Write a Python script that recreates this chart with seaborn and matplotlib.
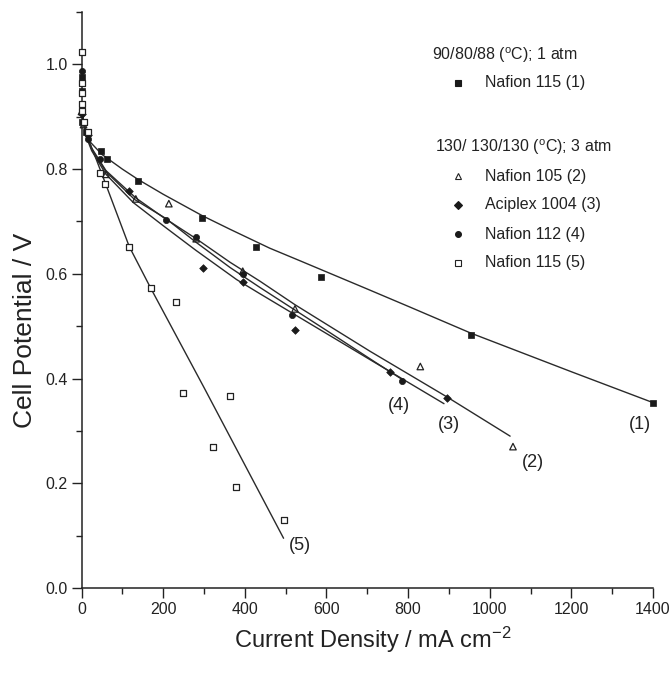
import matplotlib
matplotlib.use("Agg")
import matplotlib.pyplot as plt
from matplotlib.lines import Line2D
from matplotlib.ticker import MultipleLocator, FormatStrFormatter
import seaborn as sns
import pandas as pd

# ---- data ----
s1_x = [0, 0, 2, 10, 48, 62, 139, 296, 427, 587, 954, 1400]
s1_y = [0.975, 0.95, 0.89, 0.87, 0.834, 0.820, 0.777, 0.707, 0.651, 0.593, 0.484, 0.354]

s2_x = [0, 5, 60, 133, 214, 281, 395, 523, 830, 1057]
s2_y = [0.91, 0.885, 0.79, 0.743, 0.734, 0.667, 0.605, 0.533, 0.423, 0.270]

s3_x = [0, 15, 117, 298, 395, 523, 756, 895]
s3_y = [0.905, 0.866, 0.758, 0.612, 0.585, 0.493, 0.412, 0.363]

s4_x = [0, 16, 45, 206, 281, 395, 515, 786]
s4_y = [0.988, 0.857, 0.82, 0.702, 0.671, 0.600, 0.522, 0.396]

s5_x = [0, 0, 0, 0, 0, 5, 17, 45, 58, 117, 170, 232, 248, 323, 364, 378, 496]
s5_y = [1.024, 0.965, 0.945, 0.925, 0.91, 0.89, 0.87, 0.793, 0.771, 0.652, 0.572,
        0.546, 0.372, 0.269, 0.366, 0.192, 0.129]

fit1_x = [0, 10, 21, 50, 100, 139, 200, 296, 364, 461, 535, 700, 803, 953, 1200, 1400]
fit1_y = [0.91, 0.872, 0.852, 0.828, 0.800, 0.780, 0.752, 0.711, 0.685, 0.649, 0.625,
          0.571, 0.537, 0.487, 0.413, 0.354]
fit2_x = [0, 10, 25, 60, 133, 200, 281, 364, 437, 523, 707, 895, 1050]
fit2_y = [0.91, 0.87, 0.84, 0.797, 0.745, 0.708, 0.667, 0.622, 0.586, 0.541, 0.452, 0.365, 0.290]
fit3_x = [0, 10, 25, 60, 127, 200, 280, 380, 437, 600, 707, 888]
fit3_y = [0.91, 0.865, 0.835, 0.79, 0.736, 0.692, 0.645, 0.589, 0.562, 0.486, 0.436, 0.352]
fit4_x = [0, 10, 25, 60, 130, 206, 281, 364, 437, 600, 720, 786]
fit4_y = [0.91, 0.868, 0.838, 0.795, 0.742, 0.706, 0.66, 0.612, 0.574, 0.492, 0.431, 0.398]
fit5_x = [0, 15, 33, 60, 117, 170, 300, 495]
fit5_y = [0.91, 0.86, 0.825, 0.77, 0.652, 0.572, 0.383, 0.095]

line_labels = ["(1)", "(2)", "(3)", "(4)", "(5)"]
label_x = [1369, 1106, 901, 778, 535]
label_y = [0.312, 0.239, 0.312, 0.348, 0.082]

legend_headers = ["90/80/88 ($^{\\rm o}$C); 1 atm", "130/ 130/130 ($^{\\rm o}$C); 3 atm"]
legend_names = ["Nafion 115 (1)", "Nafion 105 (2)", "Aciplex 1004 (3)", "Nafion 112 (4)", "Nafion 115 (5)"]

# ---- style ----
sns.set_theme(style="ticks")
plt.rcParams['font.family'] = ['Liberation Sans', 'DejaVu Sans']
plt.rcParams['mathtext.fontset'] = 'custom'
plt.rcParams['mathtext.rm'] = 'Liberation Sans'
plt.rcParams['mathtext.default'] = 'regular'

INK = "#222222"
W, H = 671, 678
fig = plt.figure(figsize=(W / 100, H / 100), dpi=100)
fig.patch.set_facecolor("white")
left, right, bottom, top = 81.5 / W, 653 / W, 1 - 588 / H, 1 - 12 / H
ax = fig.add_axes([left, bottom, right - left, top - bottom])
ax.set_facecolor("white")

pts = pd.concat([
    pd.DataFrame({"x": s1_x, "y": s1_y, "s": "1"}),
    pd.DataFrame({"x": s2_x, "y": s2_y, "s": "2"}),
    pd.DataFrame({"x": s3_x, "y": s3_y, "s": "3"}),
    pd.DataFrame({"x": s4_x, "y": s4_y, "s": "4"}),
    pd.DataFrame({"x": s5_x, "y": s5_y, "s": "5"}),
])
fits = pd.concat([
    pd.DataFrame({"x": fit1_x, "y": fit1_y, "s": "1"}),
    pd.DataFrame({"x": fit2_x, "y": fit2_y, "s": "2"}),
    pd.DataFrame({"x": fit3_x, "y": fit3_y, "s": "3"}),
    pd.DataFrame({"x": fit4_x, "y": fit4_y, "s": "4"}),
    pd.DataFrame({"x": fit5_x, "y": fit5_y, "s": "5"}),
])

for key, g in fits.groupby("s"):
    sns.lineplot(data=g, x="x", y="y", sort=False, estimator=None, color="#2a2a2a",
                 linewidth=1.0, ax=ax, legend=False)

marker_style = {
    "1": dict(marker="s", s=22, color="#1a1a1a", edgecolor="#1a1a1a", linewidth=0.5),
    "2": dict(marker="^", s=22, color="none", edgecolor=INK, linewidth=0.9),
    "3": dict(marker="D", s=15, color="#1a1a1a", edgecolor="#1a1a1a", linewidth=0.5),
    "4": dict(marker="o", s=20, color="#1a1a1a", edgecolor="#1a1a1a", linewidth=0.5),
    "5": dict(marker="s", s=22, color="white", edgecolor=INK, linewidth=0.9),
}
for key in ["1", "2", "3", "4", "5"]:
    g = pts[pts["s"] == key]
    st = marker_style[key]
    sns.scatterplot(data=g, x="x", y="y", marker=st["marker"], s=st["s"],
                    color=st["color"], edgecolor=st["edgecolor"], linewidth=st["linewidth"],
                    ax=ax, legend=False, clip_on=False, zorder=3)

ax.set_xlim(0, 1400)
ax.set_ylim(0, 1.1)
ax.xaxis.set_major_locator(MultipleLocator(200))
ax.xaxis.set_minor_locator(MultipleLocator(100))
ax.yaxis.set_major_locator(MultipleLocator(0.2))
ax.yaxis.set_minor_locator(MultipleLocator(0.1))
ax.yaxis.set_major_formatter(FormatStrFormatter("%.1f"))
for s in ["top", "right"]:
    ax.spines[s].set_visible(False)
for s in ["left", "bottom"]:
    ax.spines[s].set_color(INK)
    ax.spines[s].set_linewidth(1.1)
ax.tick_params(which="major", direction="out", length=7, width=1.0, color=INK,
               labelsize=11.5, labelcolor=INK, pad=3)
ax.tick_params(which="minor", direction="out", length=4, width=1.0, color=INK)

ax.set_xlabel("Current Density / mA cm$^{-2}$", fontsize=17, color=INK)
ax.set_ylabel("Cell Potential / V", fontsize=19, color=INK)
ax.xaxis.label.set_va("center")
ax.yaxis.label.set_va("center")
ax.xaxis.set_label_coords(0.51, -0.09)
ax.yaxis.set_label_coords(-0.099, 0.448)

for t, x, y in zip(line_labels, label_x, label_y):
    ax.text(x, y, t, fontsize=13, color=INK, ha="center", va="center")

# legend (manual, figure pixel positions)
def fx(px):
    return px / W
def fy(py):
    return 1 - py / H

fig.text(fx(432), fy(55), legend_headers[0], fontsize=11.5, color=INK, va="center")
fig.text(fx(435), fy(147), legend_headers[1], fontsize=11.5, color=INK, va="center")
rows = [83, 176, 205, 234, 263]
mk = [("s", "#1a1a1a", "#1a1a1a", 4.2), ("^", "none", INK, 4.2), ("D", "#1a1a1a", "#1a1a1a", 3.6),
      ("o", "#1a1a1a", "#1a1a1a", 4.2), ("s", "white", INK, 4.2)]
for name, ry, (m, fc, ec, ms) in zip(legend_names, rows, mk):
    fig.add_artist(Line2D([fx(458)], [fy(ry)], marker=m, markersize=ms, markerfacecolor=fc,
                          markeredgecolor=ec, markeredgewidth=0.8, linestyle="none",
                          transform=fig.transFigure))
    fig.text(fx(485), fy(ry), name, fontsize=11.5, color=INK, va="center")

fig.savefig("out.png", dpi=100, facecolor="white")
